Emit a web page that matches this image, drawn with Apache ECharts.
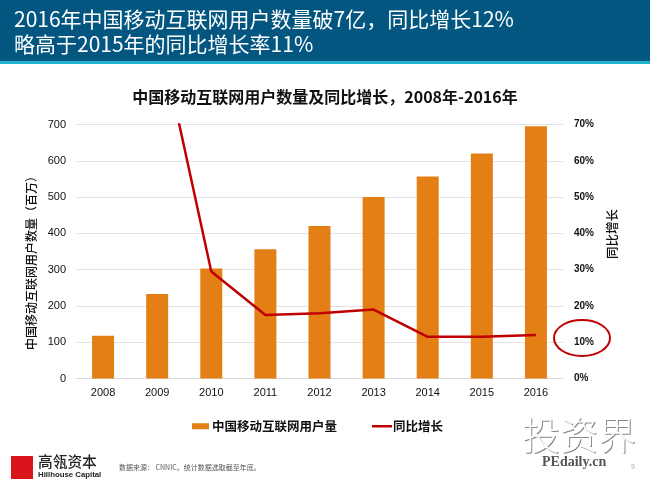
<!DOCTYPE html>
<html>
<head>
<meta charset="utf-8">
<title>中国移动互联网用户数量</title>
<script src="https://cdn.jsdelivr.net/npm/echarts@6/dist/echarts.min.js"></script>
<style>
html,body{margin:0;padding:0;background:#fff;}
#chart{width:650px;height:487px;}
</style>
</head>
<body>
<div id="chart"></div>
<script>
/* 年份 */
var years = ['2008','2009','2010','2011','2012','2013','2014','2015','2016'];
/* 用户量(百万) */
var users = [118,233,303,356,420,500,557,620,695];
/* 同比增长(%),2008年无数据,2009年超出坐标轴上限 */
var growth = [null,98,29.5,17.5,18,19,11.5,11.5,12];

var barName = '中国移动互联网用户量';
var lineName = '同比增长';

var fontName = '"Noto Sans CJK SC", sans-serif';
var latinName = '"Liberation Sans", Arial, sans-serif';

var chart = echarts.init(document.getElementById('chart'), null, {renderer:'canvas'});

var option = {
    backgroundColor:'#fff',
    animation:false,
    title:{
        text:'中国移动互联网用户数量及同比增长\uFF0C2008年-2016年',
        left:320,
        top:84,
        textAlign:'center',
        textStyle:{color:'#111',fontSize:16,fontWeight:'bold',fontFamily:fontName}
    },
    grid:{left:76,right:87,top:124.5,bottom:108.5},
    /* 图例分两个,线的图标要更细 */
    legend:[
        {left:187,top:415,itemWidth:17,itemHeight:6,icon:'rect',data:[barName],
            textStyle:{color:'#111',fontSize:12.5,fontWeight:'bold',fontFamily:fontName,padding:[0,0,0,-2]}},
        {left:367,top:415,itemWidth:20,itemHeight:2.5,icon:'rect',data:[lineName],
            textStyle:{color:'#111',fontSize:12.5,fontWeight:'bold',fontFamily:fontName,padding:[0,0,0,-4]}}
    ],
    xAxis:[{
        type:'category',
        data:years,
        axisTick:{show:false},
        axisLine:{lineStyle:{color:'#d9d9d9'}},
        axisLabel:{color:'#111',fontSize:11,margin:9,fontFamily:latinName}
    }],
    yAxis:[
        {
            type:'value',
            min:0,
            max:700,
            interval:100,
            axisLabel:{color:'#111',fontSize:11,margin:10,fontFamily:latinName},
            splitLine:{lineStyle:{color:'#e3e3e3'}}
        },
        {
            type:'value',
            min:0,
            max:70,
            interval:10,
            axisLabel:{color:'#111',fontSize:10,margin:11,fontWeight:'bold',formatter:'{value}%',fontFamily:latinName},
            splitLine:{show:false}
        }
    ],
    series:[
        {
            name:barName,
            type:'bar',
            data:users,
            barWidth:22,
            itemStyle:{color:'#e37f14'}
        },
        {
            name:lineName,
            type:'line',
            yAxisIndex:1,
            data:growth,
            symbol:'none',
            clip:true,
            lineStyle:{color:'#c00000',width:2.5},
            itemStyle:{color:'#c00000'}
        }
    ],
    graphic:[
        /* 顶部标题栏 */
        {type:'rect',shape:{x:0,y:0,width:650,height:61},style:{fill:'#02567f'},z:10},
        {type:'rect',shape:{x:0,y:61,width:650,height:3},style:{fill:'#1fb3cf'},z:10},
        {type:'text',left:14,top:9,z:11,style:{text:'2016年中国移动互联网用户数量破7亿\uFF0C同比增长12%',fill:'#fff',font:'21px "Noto Sans CJK SC"'}},
        {type:'text',left:14,top:34,z:11,style:{text:'略高于2015年的同比增长率11%',fill:'#fff',font:'21px "Noto Sans CJK SC"'}},
        /* 坐标轴标题,位置不在轴中间 */
        {type:'text',x:31,y:260,rotation:Math.PI/2,z:11,style:{text:'中国移动互联网用户数量\uFF08百万\uFF09',fill:'#111',font:'500 12px "Noto Sans CJK SC"',align:'center',verticalAlign:'middle'}},
        {type:'text',x:612,y:234,rotation:Math.PI/2,z:11,style:{text:lineName,fill:'#111',font:'500 12.5px "Noto Sans CJK SC"',align:'center',verticalAlign:'middle'}},
        /* 红圈 */
        {type:'ellipse',shape:{cx:582,cy:338,rx:28,ry:18},style:{fill:'none',stroke:'#c00000',lineWidth:2},z:12},
        /* 公司标识 */
        {type:'rect',shape:{x:11,y:456,width:22,height:23},style:{fill:'#d9141b'},z:10},
        {type:'text',left:38,top:454,z:11,style:{text:'高瓴资本',fill:'#222',font:'500 14.7px "Noto Sans CJK SC"'}},
        {type:'text',left:38,top:471,z:11,style:{text:'Hillhouse Capital',fill:'#222',font:'bold 7.8px "Liberation Sans"'}},
        {type:'text',left:119,top:464,z:11,style:{text:'数据来源\uFF1A CNNIC\u3002统计数据选取截至年底\u3002',fill:'#555',font:'7px "Noto Sans CJK SC"'}},
        /* 水印和页码 */
        {type:'text',left:523,top:417,z:11,style:{text:'投资界',fill:'#888',font:'300 38px "Noto Sans CJK SC"'}},
        {type:'text',left:522,top:416,z:11,style:{text:'投资界',fill:'#fff',font:'300 38px "Noto Sans CJK SC"'}},
        {type:'text',left:542,top:455,z:12,style:{text:'PEdaily.cn',fill:'#555',font:'bold 14px "Liberation Serif"'}},
        {type:'text',left:631,top:464,z:11,style:{text:'9',fill:'#aaa',font:'7px "Liberation Sans"'}}
    ]
};

chart.setOption(option);
</script>
</body>
</html>
